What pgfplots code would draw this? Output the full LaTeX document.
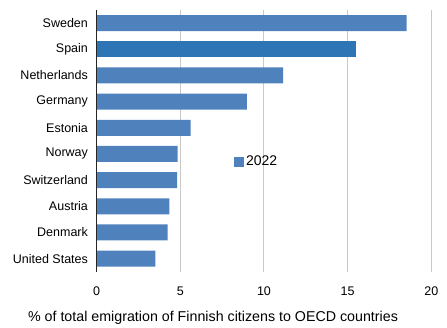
\documentclass[border=0pt]{standalone}
\usepackage{fontspec}
\setmainfont{Liberation Sans}
\usepackage{pgfplots}
\pgfplotsset{compat=1.18}
\definecolor{barblue}{RGB}{79,129,189}
\definecolor{spainblue}{RGB}{46,117,182}
\definecolor{gridgray}{RGB}{200,200,200}
\begin{document}
\begin{tikzpicture}
\begin{axis}[
  scale only axis,
  width=334.6pt, height=261.7pt,
  xbar, bar width=16pt,
  xmin=0, xmax=20,
  ymin=-0.5, ymax=9.5,
  y dir=reverse,
  ytick={0,...,9},
  yticklabels={Sweden,Spain,Netherlands,Germany,Estonia,Norway,Switzerland,Austria,Denmark,United States},
  xtick={0,5,10,15,20},
  /pgf/number format/assume math mode=true,
  tick style={draw=none},
  xmajorgrids, grid style={gridgray, line width=1pt},
  axis line style={draw=none},
  ticklabel style={font=\fontsize{12.5}{14}\selectfont},
  yticklabel style={xshift=-1pt},
  xticklabel style={yshift=-12pt},
  xlabel={\% of total emigration of Finnish citizens to OECD countries},
  xlabel style={font=\fontsize{14.25}{16}\selectfont, yshift=-8pt, xshift=-51pt},
  legend style={draw=none, fill=none, at={(0.41,0.42)}, anchor=west, font=\fontsize{14}{16}\selectfont, inner sep=0pt},
  legend image code/.code={\fill[barblue] (0pt,-5pt) rectangle (10pt,5pt);},
  clip=false,
]
\addplot[fill=barblue, draw=none, bar shift=0pt] coordinates {
(18.53,0) (11.14,2) (8.97,3) (5.62,4) (4.84,5) (4.80,6) (4.34,7) (4.24,8) (3.50,9)};
\addlegendentry{2022}
\addplot[fill=spainblue, draw=none, bar shift=0pt, forget plot] coordinates {(15.48,1)};
\draw[black!85, line width=1pt] (axis cs:0,-0.5) -- (axis cs:0,9.5);
\end{axis}
\path[use as bounding box] (current axis.south west) ++(-96.7pt,-54.3pt) rectangle ++(447pt,326pt);
\end{tikzpicture}
\end{document}
